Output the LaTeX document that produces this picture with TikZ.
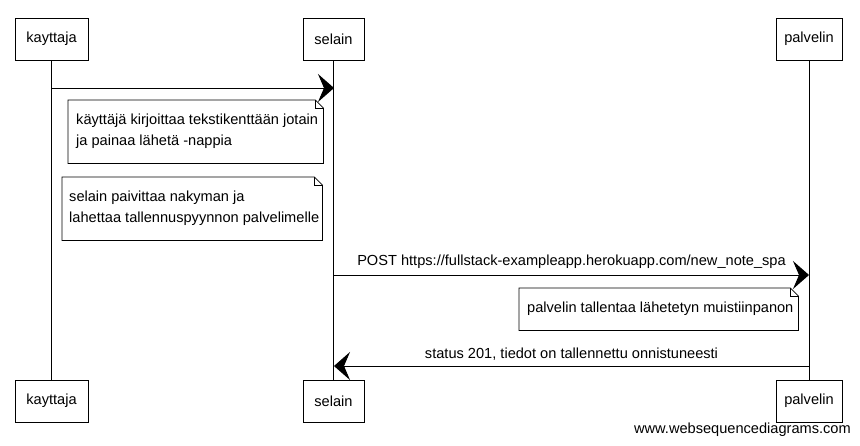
\documentclass[tikz,border=0pt]{standalone}
\usepackage{fontspec}
\setmainfont{Liberation Sans}
\usetikzlibrary{arrows.meta}
\begin{document}
\begin{tikzpicture}[x=1pt,y=-1pt,
  actor/.style={draw,line width=0.8pt,minimum height=42pt,inner sep=0pt,font=\fontsize{14.6}{17}\selectfont},
  life/.style={line width=0.8pt},
  msg/.style={line width=0.9pt,-{Stealth[length=16pt,width=28pt,inset=6pt]}},
  notebox/.style={minimum width=#1,inner sep=0pt,anchor=north west},
  notetext/.style={anchor=west,align=left,inner sep=0pt,font=\fontsize{14.6}{21}\selectfont},
  lbl/.style={inner sep=0pt,font=\fontsize{14.6}{17}\selectfont},
  noteshape/.style={line width=0.8pt}
]
\useasboundingbox (0,0) rectangle (860,445);
% participants
\node[actor,minimum width=73pt] (kt) at (51.5,39) {kayttaja};
\node[actor,minimum width=61pt] (st) at (333.5,39) {selain};
\node[actor,minimum width=66pt] (pt) at (809,39) {palvelin};
\node[actor,minimum width=73pt] (kb) at (51.5,401) {kayttaja};
\node[actor,minimum width=61pt] (sb) at (333.5,401) {selain};
\node[actor,minimum width=66pt] (pb) at (809,401) {palvelin};
% lifelines
\draw[life] (kt.south) -- (kb.north);
\draw[life] (st.south) -- (sb.north);
\draw[life] (pt.south) -- (pb.north);
% message anchors
\coordinate (m1a) at (52,88);
\coordinate (m1b) at (334,88);
\coordinate (m2a) at (334,275);
\coordinate (m2b) at (809,275);
\coordinate (m3a) at (809,366);
\coordinate (m3b) at (334,366);
% message 1
\draw[msg] (m1a) -- (m1b);
% note 1
\node[notebox,minimum width=255pt,minimum height=63pt] (n1) at (68,100) {};
\draw[noteshape] (n1.north west) -- ([xshift=-8pt]n1.north east) -- ([yshift=-8pt]n1.north east) -- (n1.south east) -- (n1.south west) -- cycle;
\draw[noteshape] ([xshift=-8pt]n1.north east) |- ([yshift=-8pt]n1.north east);
\node[notetext] (t1) at ([xshift=8pt]n1.west) {käyttäjä kirjoittaa tekstikenttään jotain\\ja painaa lähetä -nappia};
% note 2
\node[notebox,minimum width=260pt,minimum height=63pt] (n2) at (62,177) {};
\draw[noteshape] (n2.north west) -- ([xshift=-8pt]n2.north east) -- ([yshift=-8pt]n2.north east) -- (n2.south east) -- (n2.south west) -- cycle;
\draw[noteshape] ([xshift=-8pt]n2.north east) |- ([yshift=-8pt]n2.north east);
\node[notetext] (t2) at ([xshift=7pt]n2.west) {selain paivittaa nakyman ja\\lahettaa tallennuspyynnon palvelimelle};
% message 2
\draw[msg] (m2a) -- node[lbl,above=6pt] (l2) {POST https://fullstack-exampleapp.herokuapp.com/new\_note\_spa} (m2b);
% note 3
\node[notebox,minimum width=279pt,minimum height=42pt] (n3) at (519,288) {};
\draw[noteshape] (n3.north west) -- ([xshift=-8pt]n3.north east) -- ([yshift=-8pt]n3.north east) -- (n3.south east) -- (n3.south west) -- cycle;
\draw[noteshape] ([xshift=-8pt]n3.north east) |- ([yshift=-8pt]n3.north east);
\node[notetext] (t3) at ([xshift=8pt]n3.west) {palvelin tallentaa lähetetyn muistiinpanon};
% message 3
\draw[msg] (m3a) -- node[lbl,above=5pt] (l3) {status 201, tiedot on tallennettu onnistuneesti} (m3b);
% footer
\node[lbl,anchor=east] (ft) at (851,430) {www.websequencediagrams.com};
\end{tikzpicture}
\end{document}
